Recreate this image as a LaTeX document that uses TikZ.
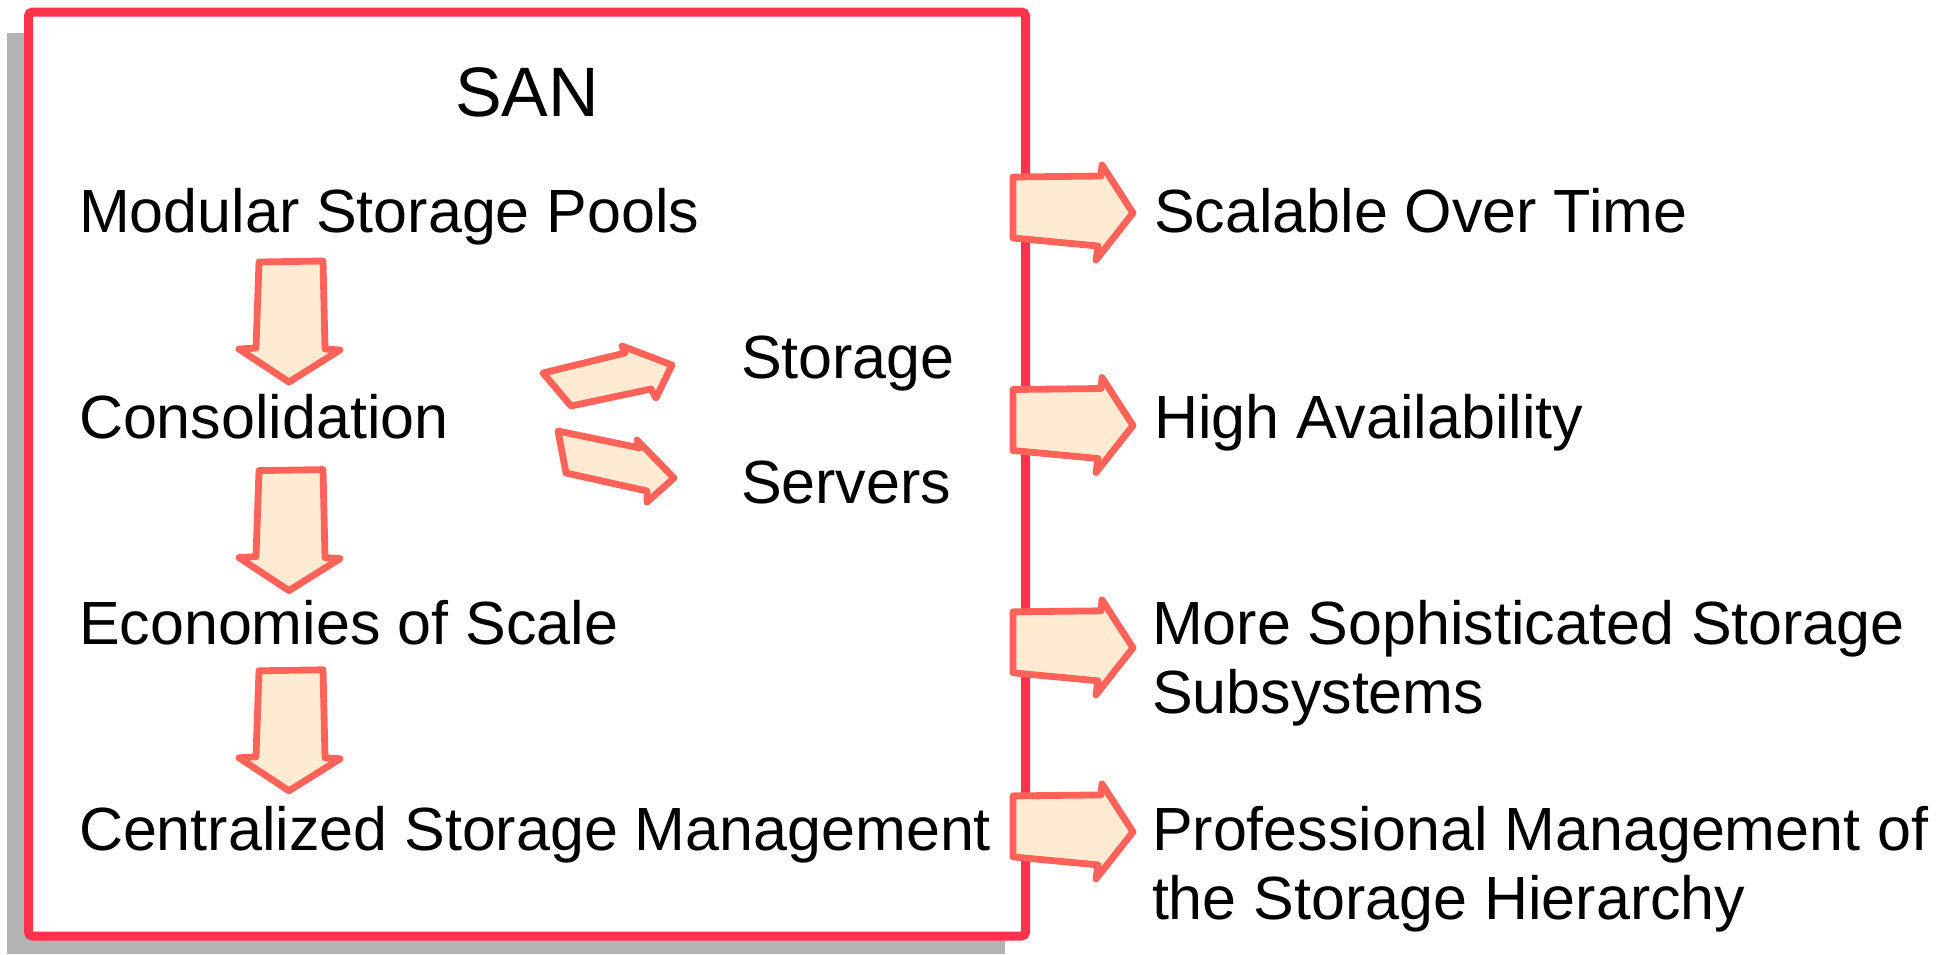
\documentclass[tikz,border=0pt]{standalone}
\usepackage{fontspec}
\setmainfont{Liberation Sans}
\definecolor{framered}{RGB}{255,50,78}
\definecolor{arrowline}{RGB}{255,98,88}
\definecolor{arrowfill}{RGB}{255,234,210}
\definecolor{shadowgray}{RGB}{179,179,179}
\tikzset{
  label/.style={inner sep=0pt, outer sep=0pt, anchor=base west,
    font=\fontsize{30.5pt}{34pt}\selectfont},
  blockarrow/.style={draw=arrowline, fill=arrowfill, line width=3.4pt,
    line join=round},
}
\begin{document}
\begin{tikzpicture}[x=0.5pt, y=-0.5pt]
\useasboundingbox (0,0) rectangle (1937,954);

% drop shadow and SAN frame
\fill[shadowgray] (7,33) rectangle (1005,954);
\draw[framered, fill=white, line width=4.5pt, rounded corners=2pt]
  (28.5,12) rectangle (1025.5,936);

% downward arrows between the SAN steps
\foreach \dy in {0,208.6,408.8} {
  \begin{scope}[yshift=-0.5*\dy pt]
    \draw[blockarrow] (259,262) -- (323,261) -- (325,349) -- (340,350)
      -- (289,382) -- (239,349) -- (256,348) -- cycle;
  \end{scope}
}

% arrows towards Storage and Servers
\draw[blockarrow] (543,373) -- (625,353) -- (622,346) -- (672,365)
  -- (656,398) -- (651,389) -- (571,406) -- cycle;
\draw[blockarrow] (558,431) -- (640,448) -- (637,440) -- (674,478)
  -- (647,502) -- (647,491) -- (566,473) -- cycle;

% arrows from the frame to the benefits
\foreach \dy in {0,212.5,434.8,618.9} {
  \begin{scope}[yshift=-0.5*\dy pt]
    \draw[blockarrow] (1013,177) -- (1101,176) -- (1102,165) -- (1133,213)
      -- (1096,260) -- (1098,246) -- (1013,238) -- cycle;
  \end{scope}
}

% texts
\node[inner sep=0pt, anchor=base, font=\fontsize{35pt}{40pt}\selectfont]
  (san) at (527,116) {SAN};
\node[label] (pools) at (79,232) {Modular Storage Pools};
\node[label] (cons) at (79,438) {Consolidation};
\node[label] (econ) at (79,644) {Economies of Scale};
\node[label] (mgmt) at (79,850) {Centralized Storage Management};
\node[label] (stor) at (741,378) {Storage};
\node[label] (serv) at (741,503) {Servers};
\node[label] (scal) at (1154,232) {Scalable Over Time};
\node[label] (avail) at (1154,438) {High Availability};
\node[label] (soph) at (1152,644) {More Sophisticated Storage};
\node[label] (subs) at (1152,713) {Subsystems};
\node[label] (prof) at (1152,850) {Professional Management of};
\node[label] (hier) at (1152,919) {the Storage Hierarchy};
\end{tikzpicture}
\end{document}
